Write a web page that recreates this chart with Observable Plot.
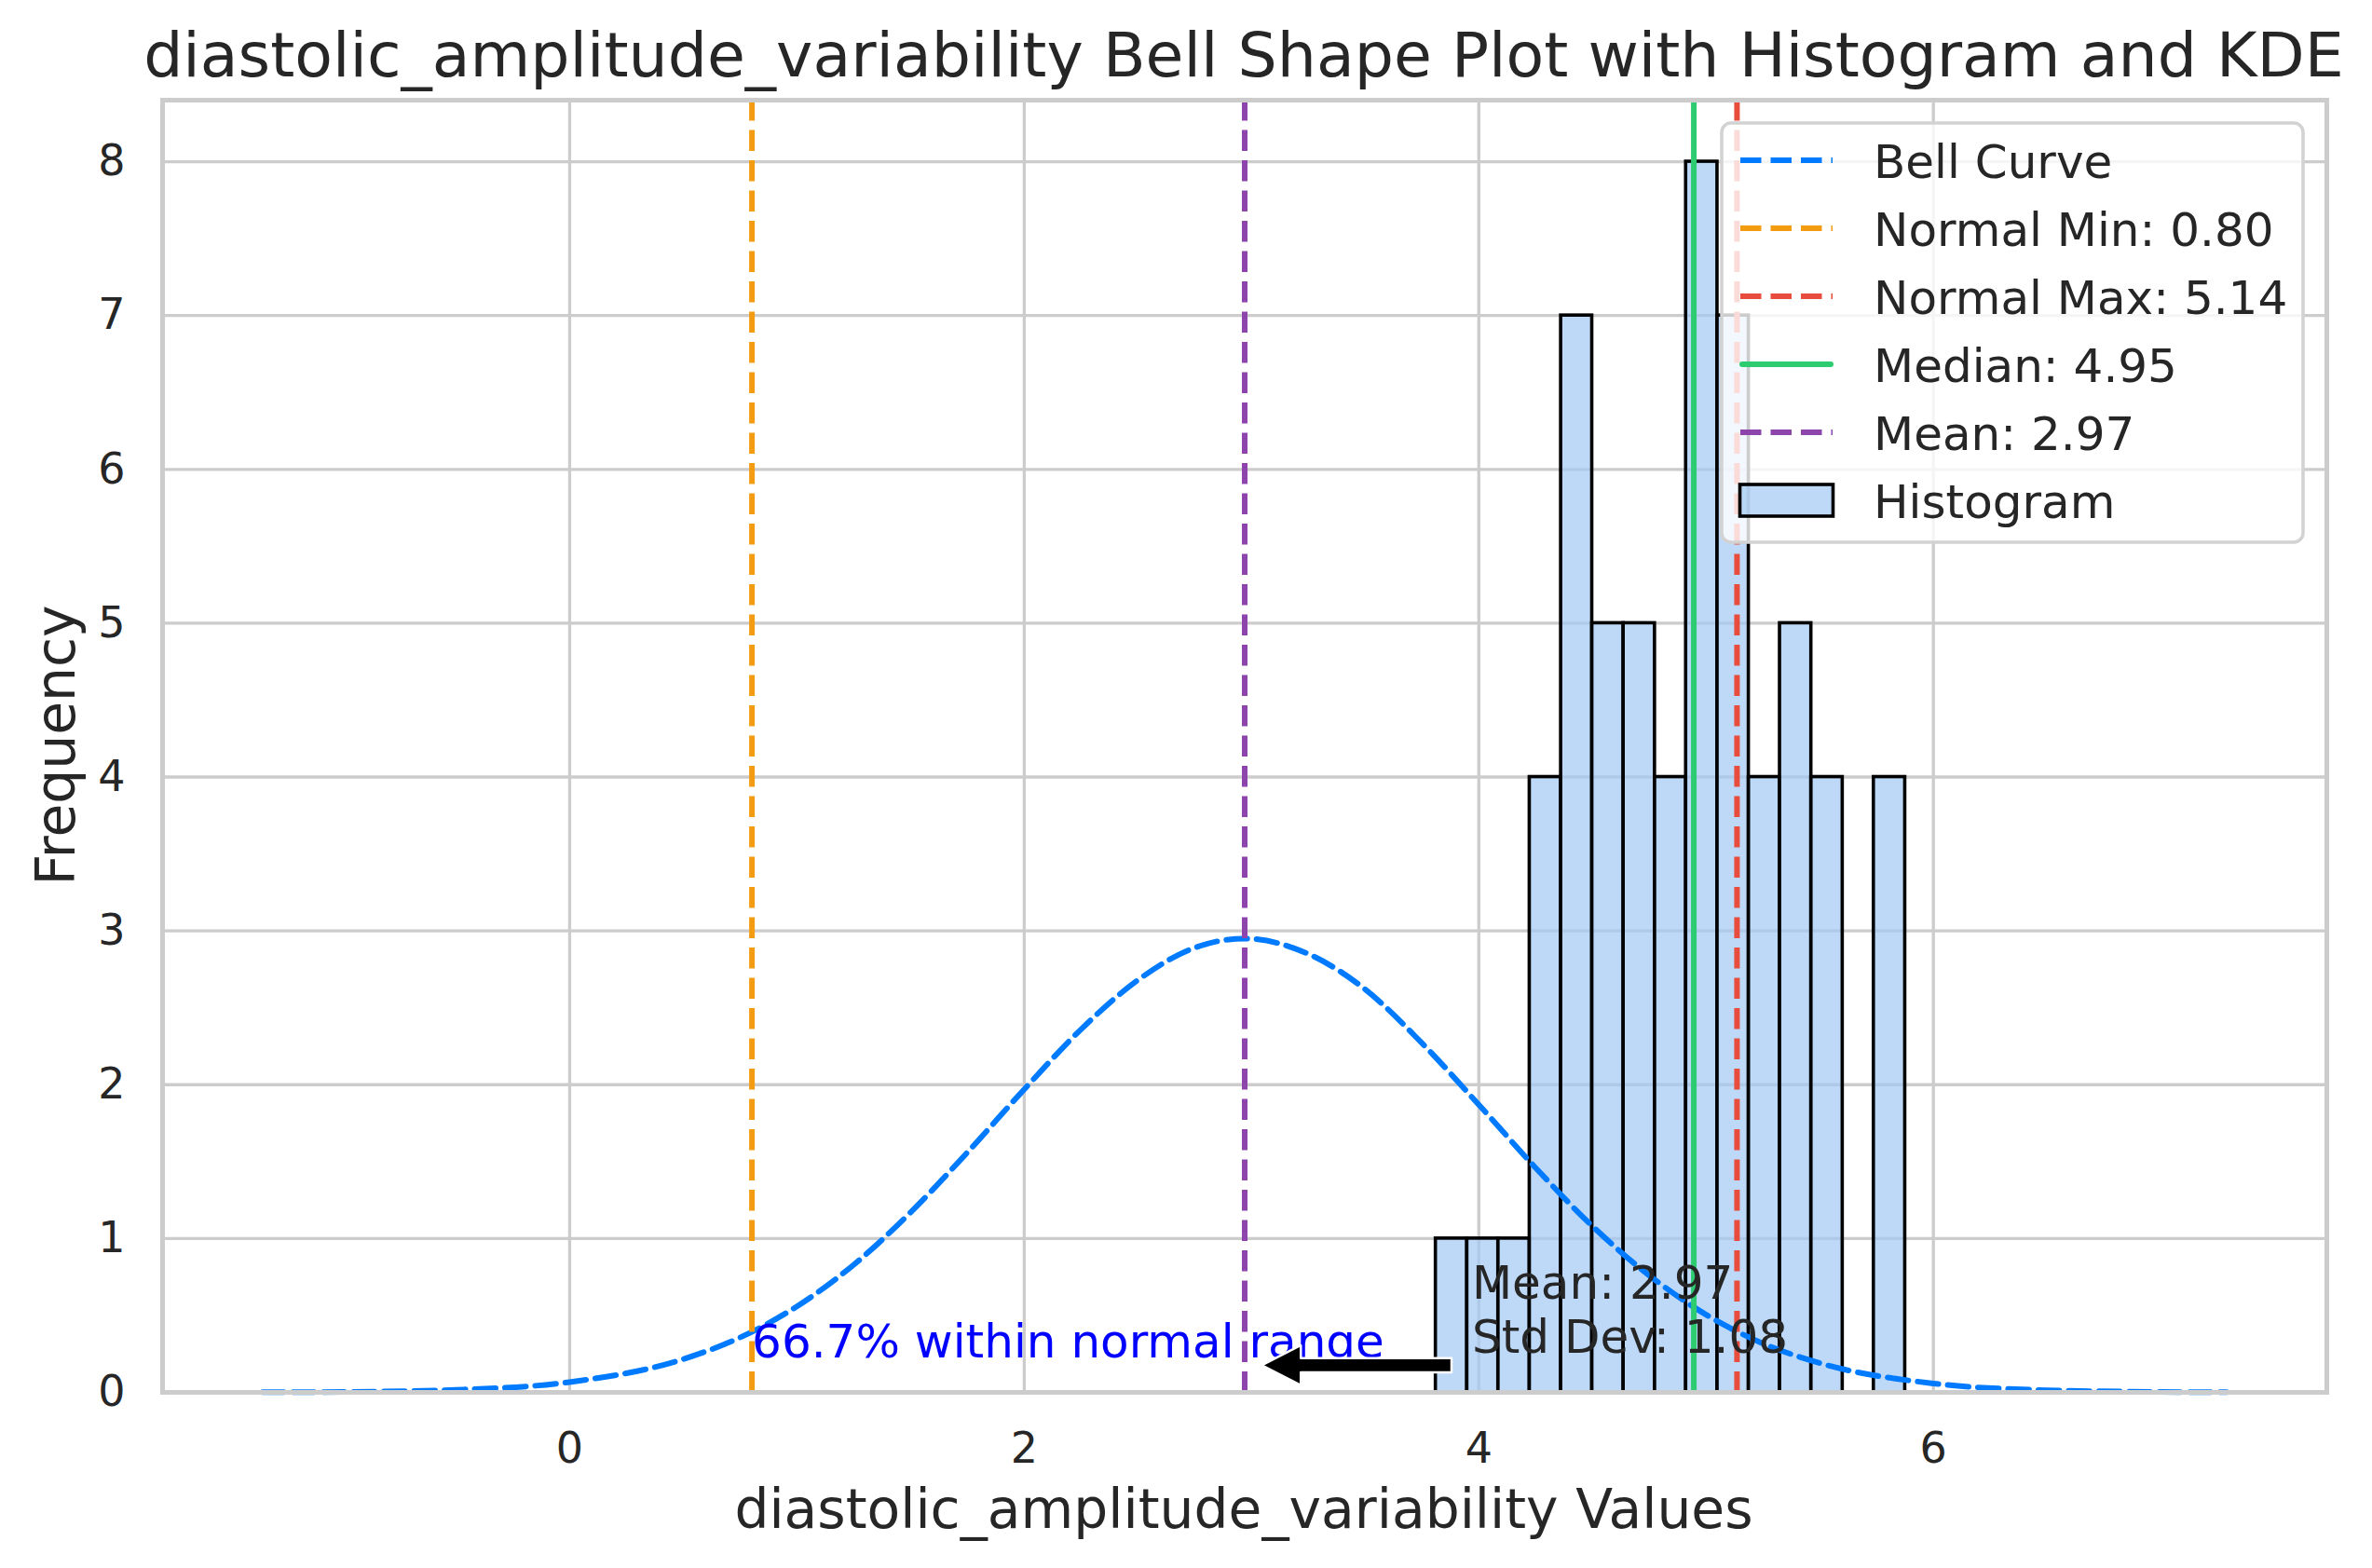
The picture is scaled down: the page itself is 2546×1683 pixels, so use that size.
<!DOCTYPE html>
<html>
<head>
<meta charset="utf-8">
<script src="https://cdn.jsdelivr.net/npm/d3@7"></script>
<script src="https://cdn.jsdelivr.net/npm/@observablehq/plot@0.6"></script>
<style>
  body { margin: 0; background: #ffffff; }
  #wrap { position: relative; width: 2546px; height: 1683px; font-family: "DejaVu Sans", sans-serif; }
  #wrap svg.overlay { position: absolute; left: 0; top: 0; pointer-events: none; }
</style>
</head>
<body>
<div id="wrap"></div>
<script>
// ---------------- data ----------------
const binEdges = [3.811, 3.949, 4.086, 4.224, 4.362, 4.499, 4.637, 4.775, 4.912, 5.050, 5.188, 5.325, 5.463, 5.601, 5.738, 5.876];
const binCounts = [1, 1, 1, 4, 7, 5, 5, 4, 8, 7, 4, 5, 4, 0, 4];

const bellX = [-1.35, -1.0, -0.5, 0.0, 0.5, 0.75, 1.0, 1.25, 1.5, 1.75, 2.0, 2.25, 2.5, 2.75, 2.97, 3.25, 3.5, 3.75, 4.0, 4.25, 4.5, 4.75, 5.0, 5.25, 5.5, 6.0, 6.5, 7.0, 7.29];
const bellY = [0.001, 0.003, 0.017, 0.067, 0.216, 0.357, 0.559, 0.83, 1.17, 1.56, 1.97, 2.36, 2.68, 2.89, 2.95, 2.85, 2.62, 2.27, 1.87, 1.46, 1.08, 0.76, 0.505, 0.318, 0.19, 0.058, 0.014, 0.003, 0.001];

const xTicks = [0, 2, 4, 6];
const yTicks = [0, 1, 2, 3, 4, 5, 6, 7, 8];

const normalMin = 0.802;
const normalMax = 5.136;
const medianVal = 4.946;
const meanVal = 2.97;
const stdVal = 1.08;
const pctWithin = 66.7;

const titleText = "diastolic_amplitude_variability Bell Shape Plot with Histogram and KDE";
const xLabel = "diastolic_amplitude_variability Values";
const yLabel = "Frequency";

// ---------------- derived tables ----------------
const bins = binCounts.map((c, i) => ({x0: binEdges[i], x1: binEdges[i + 1], count: c})).filter(d => d.count > 0);
const bell = bellX.map((x, i) => ({x, y: bellY[i]}));

const C = {
  text: "#262626", grid: "#cccccc", bell: "#007bff", min: "#f39c12", max: "#e74c3c",
  median: "#2ecc71", mean: "#8e44ad", barFill: "#a1c9f4"
};
const DASH = "22.5,10";
const LW = 6;

// annotation arrow (filled polygon pointing at the mean)
const arrowY = 0.176, tipX = meanVal + 0.075, baseX = tipX + 0.172, tailX = meanVal + 0.91;
const headH = 0.13, shaftH = 0.046;
const arrowPts = [
  [tipX, arrowY], [baseX, arrowY + headH], [baseX, arrowY + shaftH], [tailX, arrowY + shaftH],
  [tailX, arrowY - shaftH], [baseX, arrowY - shaftH], [baseX, arrowY - headH], [tipX, arrowY]
];

const W = 2546, H = 1683;
const plot = Plot.plot({
  width: W, height: H,
  marginLeft: 174, marginRight: 49, marginTop: 107, marginBottom: 189,
  style: {fontFamily: "DejaVu Sans", color: C.text, background: "white", maxWidth: "none"},
  x: {domain: [-1.791, 7.731]},
  y: {domain: [0, 8.4]},
  marks: [
    Plot.gridX(xTicks, {stroke: C.grid, strokeOpacity: 1, strokeWidth: 3.3}),
    Plot.gridY(yTicks, {stroke: C.grid, strokeOpacity: 1, strokeWidth: 3.3}),
    Plot.rect(bins, {x1: "x0", x2: "x1", y1: 0, y2: "count", fill: C.barFill, fillOpacity: 0.7, stroke: "black", strokeWidth: 3.6}),
    Plot.line(bell, {x: "x", y: "y", stroke: C.bell, strokeWidth: LW, strokeDasharray: DASH, curve: "monotone-x"}),
    Plot.ruleX([normalMin], {stroke: C.min, strokeWidth: LW, strokeDasharray: DASH}),
    Plot.ruleX([normalMax], {stroke: C.max, strokeWidth: LW, strokeDasharray: DASH}),
    Plot.ruleX([medianVal], {stroke: C.median, strokeWidth: LW}),
    Plot.ruleX([meanVal], {stroke: C.mean, strokeWidth: LW, strokeDasharray: DASH}),
    Plot.axisX({ticks: xTicks, tickSize: 0, tickPadding: 43, fontSize: 46, label: null, tickFormat: d => String(d)}),
    Plot.axisY({ticks: yTicks, tickSize: 0, tickPadding: 40, fontSize: 46, label: null, tickFormat: d => String(d)}),
    Plot.text([`${pctWithin.toFixed(1)}% within normal range`], {
      x: normalMin, y: 0.321, text: d => d, textAnchor: "start", lineAnchor: "middle", fill: "blue", fontSize: 50
    }),
    Plot.text([`Mean: ${meanVal.toFixed(2)}\nStd Dev: ${stdVal.toFixed(2)}`], {
      x: meanVal + 1, y: 0.545, text: d => d, textAnchor: "start", lineAnchor: "middle", lineHeight: 1.15, fill: C.text, fontSize: 50
    }),
    Plot.line(arrowPts, {x: d => d[0], y: d => d[1], fill: "black", stroke: "white", strokeWidth: 2.5, curve: "linear"}),
    Plot.frame({stroke: C.grid, strokeWidth: 5})
  ]
});

const wrap = document.getElementById("wrap");
wrap.appendChild(plot);

// ---------------- overlay: title, axis labels, legend ----------------
const ov = d3.create("svg").attr("class", "overlay").attr("width", W).attr("height", H)
  .attr("font-family", "DejaVu Sans");

ov.append("text").attr("x", 1335).attr("y", 82).attr("text-anchor", "middle")
  .attr("font-size", 66.5).attr("fill", C.text).text(titleText);
ov.append("text").attr("x", 1335).attr("y", 1640).attr("text-anchor", "middle")
  .attr("font-size", 58.3).attr("fill", C.text).text(xLabel);
ov.append("text").attr("transform", "translate(80,800) rotate(-90)").attr("text-anchor", "middle")
  .attr("font-size", 58.3).attr("fill", C.text).text(yLabel);

const lg = ov.append("g");
lg.append("rect").attr("x", 1848).attr("y", 132).attr("width", 624).attr("height", 450).attr("rx", 10)
  .attr("fill", "white").attr("fill-opacity", 0.8).attr("stroke", "#d2d2d2").attr("stroke-width", 3.5);

const items = [
  {label: `Bell Curve`, color: C.bell, dash: true},
  {label: `Normal Min: ${normalMin.toFixed(2)}`, color: C.min, dash: true},
  {label: `Normal Max: ${normalMax.toFixed(2)}`, color: C.max, dash: true},
  {label: `Median: ${medianVal.toFixed(2)}`, color: C.median, dash: false},
  {label: `Mean: ${meanVal.toFixed(2)}`, color: C.mean, dash: true},
  {label: "Histogram", patch: true}
];
items.forEach((it, i) => {
  const cy = 172 + i * 73;
  if (it.patch) {
    lg.append("rect").attr("x", 1867.5).attr("y", cy - 17).attr("width", 100).attr("height", 34)
      .attr("fill", C.barFill).attr("fill-opacity", 0.7).attr("stroke", "black").attr("stroke-width", 3.6);
  } else {
    const l = lg.append("line").attr("x1", it.dash ? 1868 : 1870).attr("x2", it.dash ? 1967 : 1965)
      .attr("y1", cy).attr("y2", cy).attr("stroke", it.color).attr("stroke-width", LW);
    if (it.dash) l.attr("stroke-dasharray", DASH);
    else l.attr("stroke-linecap", "round");
  }
  lg.append("text").attr("x", 2011).attr("y", cy + 19).attr("font-size", 50).attr("fill", C.text).text(it.label);
});

wrap.appendChild(ov.node());
</script>
</body>
</html>
